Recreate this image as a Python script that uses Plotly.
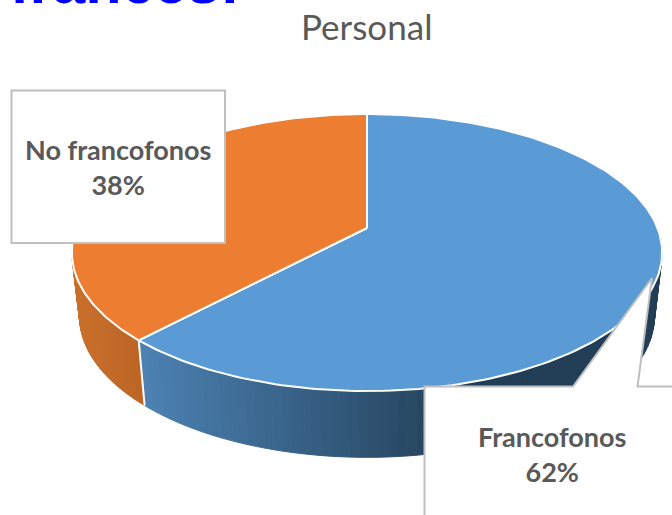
import numpy as np
import plotly.graph_objects as go

categories = ["Francofonos", "No francofonos"]
values = [62, 38]
title_text = "Personal"
clipped_heading = "francés:"

top_colors = ["#5B9BD5", "#ED7D31"]
side_left = [(0x4C, 0x82, 0xB3), (0xC9, 0x70, 0x2C)]
side_right = [(0x22, 0x3E, 0x57), (0xBC, 0x64, 0x24)]

W, H = 672, 515
CX, CY = 367, 228
A, B, K = 290.5, 134.2, 0.177
X_SCALE, Y_SCALE, Y_DROP = 0.974, 1.02, 63


def top(phi):
    u, v = np.sin(phi), np.cos(phi)
    w = 1 + K * v
    return CX + A * u / w, CY - B * v / w


def bottom(phi):
    x, y = top(phi)
    return CX + (x - CX) * X_SCALE, CY + (y - CY) * Y_SCALE + Y_DROP


def rgb(c):
    return "rgb(%d,%d,%d)" % tuple(int(round(i)) for i in c)


fractions = np.array(values, float) / sum(values)
edges = np.concatenate([[0], np.cumsum(fractions)]) * 2 * np.pi

fig = go.Figure()

# Side walls, drawn as thin strips so they carry a horizontal gradient
visible = [(np.radians(80), edges[1]), (edges[1], np.radians(285))]
for i, (a0, a1) in enumerate(visible):
    steps = np.linspace(a0, a1, 90)
    x_span = top(steps)[0]
    lo, hi = x_span.min(), x_span.max()
    for p0, p1 in zip(steps[:-1], steps[1:]):
        sub = np.linspace(p0, p1, 3)
        tx, ty = top(sub)
        bx, by = bottom(sub)
        t = (tx.mean() - lo) / (hi - lo)
        if i == 0:
            t = min(1.0, t / 0.62)
        col = rgb(np.array(side_left[i]) * (1 - t) + np.array(side_right[i]) * t)
        fig.add_trace(go.Scatter(
            x=np.concatenate([tx, bx[::-1], tx[:1]]),
            y=np.concatenate([ty, by[::-1], ty[:1]]),
            mode="lines", fill="toself", fillcolor=col,
            line=dict(color=col, width=1), hoverinfo="skip", showlegend=False))

# White seam between the two side walls
sx0, sy0 = top(edges[1])
sx1, sy1 = bottom(edges[1])
fig.add_trace(go.Scatter(x=[sx0, sx1], y=[sy0, sy1], mode="lines",
                         line=dict(color="white", width=2),
                         hoverinfo="skip", showlegend=False))

# Top faces
for i, name in enumerate(categories):
    arc = np.linspace(edges[i], edges[i + 1], 200)
    ax, ay = top(arc)
    fig.add_trace(go.Scatter(
        x=np.concatenate([[CX], ax, [CX]]),
        y=np.concatenate([[CY], ay, [CY]]),
        mode="lines", fill="toself", fillcolor=top_colors[i],
        line=dict(color="white", width=2), name=name,
        text=f"{name}: {values[i]}%", hoverinfo="text", showlegend=False))

BORDER = "#BFBFBF"
shapes = [
    dict(type="rect", xref="x", yref="y", x0=11.5, y0=90.5, x1=225, y1=243,
         fillcolor="white", line=dict(color=BORDER, width=2), layer="above"),
    dict(type="path", xref="x", yref="y",
         path="M 424.5 530 L 424.5 386.5 L 573 386.5 L 652 278 L 637.5 386.5 L 690 386.5 L 690 530 Z",
         fillcolor="white", line=dict(color=BORDER, width=2), layer="above"),
]

GRAY = "#595959"
annotations = [
    dict(x=118, y=167, xref="x", yref="y", showarrow=False, align="center",
         text=f"<b>{categories[1]}<br>{values[1]}%</b>",
         font=dict(family="Lato", size=27, color=GRAY)),
    dict(x=552, y=454, xref="x", yref="y", showarrow=False, align="center",
         text=f"<b>{categories[0]}<br>{values[0]}%</b>",
         font=dict(family="Lato", size=27, color=GRAY)),
    dict(x=366, y=26, xref="x", yref="y", showarrow=False,
         text=title_text, font=dict(family="Lato", size=35, color=GRAY)),
    dict(x=124.5, y=0, xref="x", yref="y", showarrow=False, yanchor="bottom", yshift=-18,
         text=f"<b>{clipped_heading}</b>",
         font=dict(family="Liberation Sans", size=59, color="#0000FF")),
]

fig.update_layout(
    width=W, height=H, margin=dict(l=0, r=0, t=0, b=0),
    paper_bgcolor="white", plot_bgcolor="white",
    xaxis=dict(range=[0, W], visible=False, fixedrange=True),
    yaxis=dict(range=[H, 0], visible=False, fixedrange=True),
    shapes=shapes, annotations=annotations, showlegend=False,
)

fig.write_html("out.html", config={"displayModeBar": False},
               post_script="document.body.style.margin='0';")
